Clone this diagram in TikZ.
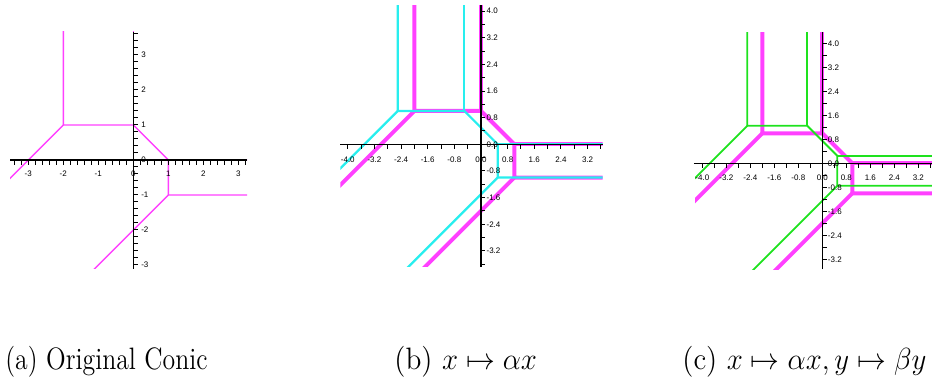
\documentclass[tikz,border=0pt]{standalone}
\usepackage{fontspec}
\usepackage{amsmath,amssymb}
\usetikzlibrary{calc}
\newfontfamily\tickfont{Liberation Sans}
\definecolor{rosa}{RGB}{255,64,255}
\definecolor{celeste}{RGB}{40,238,238}
\definecolor{verde}{RGB}{30,226,30}

% tropical conic with vertices shifted by (#3,#4)
\newcommand{\tropconic}[4]{%
  \coordinate (#1a) at ({-2+(#3)},{1+(#4)});
  \coordinate (#1b) at ({#3},{1+(#4)});
  \coordinate (#1c) at ({1+(#3)},{#4});
  \coordinate (#1d) at ({1+(#3)},{-1+(#4)});
  \draw[#2] ($(#1a)+(0,9)$) -- (#1a) -- (#1b) -- (#1c) -- (#1d) -- ($(#1d)+(9,0)$);
  \draw[#2] (#1b) -- ($(#1b)+(0,9)$);
  \draw[#2] (#1c) -- ($(#1c)+(9,0)$);
  \draw[#2] (#1a) -- ($(#1a)+(-9,-9)$);
  \draw[#2] (#1d) -- ($(#1d)+(-9,-9)$);
}
\newcommand{\alto}[2][1.2]{\scalebox{1}[#1]{#2}}

\begin{document}
\begin{tikzpicture}[x=0.5pt, y=-0.5pt,
  eje/.style={draw=black, line width=0.6pt},
  marca/.style={draw=black, line width=0.5pt},
  curva/.style={draw=rosa, line width=0.7pt},
  gruesa/.style={draw=rosa, line width=2pt},
  trasl/.style={draw=celeste, line width=1.1pt},
  trasl2/.style={draw=verde, line width=0.9pt},
  etx/.style={font=\tickfont\fontsize{4}{5}\selectfont, inner sep=0pt},
  ety/.style={font=\tickfont\fontsize{4}{5}\selectfont, inner sep=0pt, anchor=west},
  titulo/.style={font=\fontsize{12.9}{15}\selectfont, anchor=base west, inner sep=0pt},
  titulo2/.style={titulo, font=\fontsize{14.6}{17}\selectfont}]
  \useasboundingbox (0,0) rectangle (952,379);

  % (a) original conic
  \begin{scope}[shift={(133.3,160)}, x=17.5pt, y=17.5pt]
    \begin{scope}
      \clip (-3.52,-3.11) rectangle (3.25,3.66);
      \tropconic{a}{curva}{0}{0}
    \end{scope}
    \draw[eje] (-3.52,0) -- (3.25,0);
    \draw[eje] (0,-3.11) -- (0,3.66);
    \foreach \k in {-17,...,16} \draw[marca] (0.2*\k,0) -- ++(0,-2.5pt);
    \foreach \k in {-15,...,18} \draw[marca] (0,0.2*\k) -- ++(2.5pt,0);
    \foreach \v [count=\k] in {-3,-2,-1,0,1,2,3} {
      \node[etx, yshift=-7pt] (ax\k) at (\v,0) {\v};
      \node[ety, xshift=3.8pt] (ay\k) at (0,\v) {\v};
    }
  \end{scope}

  % (b) x -> alpha x
  \begin{scope}[shift={(481,144.3)}, x=16.65pt, y=16.65pt]
    \begin{scope}
      \clip (-4.22,-3.67) rectangle (3.65,4.18);
      \tropconic{b}{gruesa}{0}{0}
      \tropconic{bb}{trasl}{-0.5}{0}
    \end{scope}
    \draw[eje] (-4.22,0) -- (3.65,0);
    \draw[eje] (0,-3.67) -- (0,4.18);
    \foreach \k in {-10,...,9} \draw[marca] (0.4*\k,0) -- ++(0,-2.2pt);
    \foreach \k in {-9,...,10} \draw[marca] (0,0.4*\k) -- ++(2.2pt,0);
    \foreach \v [count=\k] in {-4.0,-3.2,-2.4,-1.6,-0.8,0.0,0.8,1.6,2.4,3.2}
      \node[etx, yshift=-7.8pt] (bx\k) at (\v,0) {\v};
    \foreach \v [count=\k] in {-3.2,-2.4,-1.6,-0.8,0.0,0.8,1.6,2.4,3.2,4.0}
      \node[ety, xshift=2.6pt] (by\k) at (0,\v) {\v};
  \end{scope}

  % (c) x -> alpha x, y -> beta y
  \begin{scope}[shift={(822.3,163.3)}, x=15pt, y=15pt]
    \begin{scope}
      \clip (-4.24,-3.53) rectangle (3.65,4.37);
      \tropconic{c}{gruesa}{0}{0}
      \tropconic{cc}{trasl2}{-0.5}{0.25}
    \end{scope}
    \draw[eje] (-4.28,0) -- (3.65,0);
    \draw[eje] (0,-3.53) -- (0,4.37);
    \foreach \k in {-10,...,9} \draw[marca] (0.4*\k,0) -- ++(0,-2.2pt);
    \foreach \k in {-8,...,10} \draw[marca] (0,0.4*\k) -- ++(2.2pt,0);
    \foreach \v [count=\k] in {-4.0,-3.2,-2.4,-1.6,-0.8,0.0,0.8,1.6,2.4,3.2}
      \node[etx, yshift=-7.2pt] (cx\k) at (\v,0) {\v};
    \foreach \v [count=\k] in {-3.2,-2.4,-1.6,-0.8,0.0,0.8,1.6,2.4,3.2,4.0}
      \node[ety, xshift=2.6pt] (cy\k) at (0,\v) {\v};
  \end{scope}

  % captions
  \node[titulo] (capa) at (5,369) {\alto{(a) Original Conic}};
  \node[titulo2] (capb) at (394,369) {\alto[1.06]{(b) $x \mapsto \alpha x$}};
  \node[titulo2] (capc) at (682,369) {\alto[1.06]{(c) $x \mapsto \alpha x, y \mapsto \beta y$}};
\end{tikzpicture}
\end{document}
